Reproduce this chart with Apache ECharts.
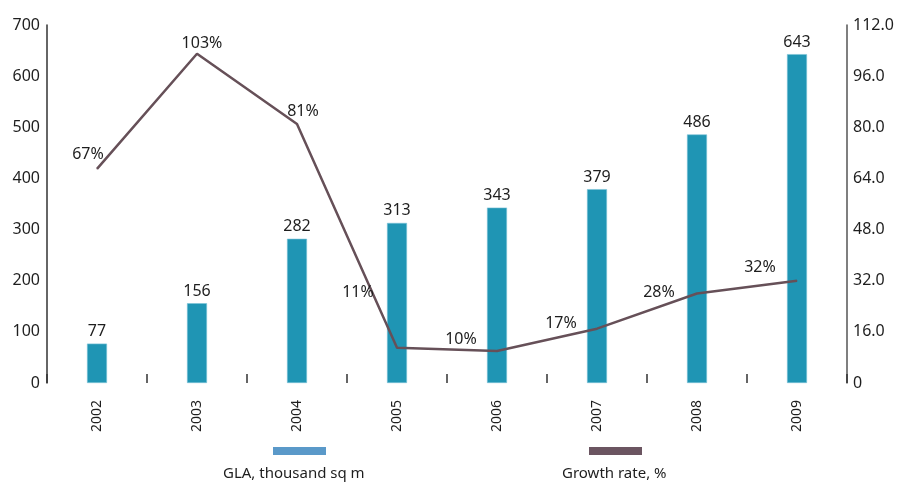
<!DOCTYPE html>
<html>
<head>
<meta charset="utf-8">
<script src="https://cdn.jsdelivr.net/npm/echarts@6/dist/echarts.min.js"></script>
<style>
  html, body { margin: 0; padding: 0; background: #ffffff; }
  #chart { width: 911px; height: 486px; }
</style>
</head>
<body>
<div id="chart"></div>
<script>
// Shopping centre stock: gross leasable area and its yearly growth
const years = ['2002', '2003', '2004', '2005', '2006', '2007', '2008', '2009'];
const glaValues = [77, 156, 282, 313, 343, 379, 486, 643];
const growthValues = [67, 103, 81, 11, 10, 17, 28, 32];
const leftTicks = { min: 0, max: 700, interval: 100 };
const rightTicks = { min: 0, max: 112, interval: 16 };
const seriesNames = ['GLA, thousand sq m', 'Growth rate, %'];

// label placement for the growth-rate line, relative to each point
const growthLabelOffsets = [[-9, -14], [5, -10], [6, -13], [-39, -55], [-36, -12], [-36, -5], [-38, -1], [-37, -13]];

const barColor = '#1f95b4';
const lineColor = '#665058';
const textColor = '#1e1e1e';
const fontFamily = '"Noto Sans", "Open Sans", sans-serif';

const chart = echarts.init(document.getElementById('chart'), null, { renderer: 'canvas' });

const option = {
  backgroundColor: '#ffffff',
  animation: false,
  textStyle: { fontFamily: fontFamily, color: textColor },
  grid: { left: 47, right: 64, top: 25, bottom: 103 },
  xAxis: {
    type: 'category',
    data: years,
    boundaryGap: true,
    axisLine: { show: false },
    axisTick: { show: true, inside: true, length: 9, lineStyle: { color: '#333', width: 1.5 } },
    axisLabel: { rotate: 90, margin: 17, fontSize: 14, color: textColor, fontFamily: fontFamily }
  },
  yAxis: [
    {
      type: 'value',
      min: leftTicks.min, max: leftTicks.max, interval: leftTicks.interval,
      axisLine: { show: true, lineStyle: { color: '#333', width: 1.5 } },
      axisTick: { show: false },
      splitLine: { show: false },
      axisLabel: { margin: 7, fontSize: 16, color: textColor, fontFamily: fontFamily, padding: [8, 0, 0, 0] }
    },
    {
      type: 'value',
      min: rightTicks.min, max: rightTicks.max, interval: rightTicks.interval,
      position: 'right',
      axisLine: { show: true, lineStyle: { color: '#555', width: 1.5 } },
      axisTick: { show: false },
      splitLine: { show: false },
      axisLabel: {
        margin: 6, fontSize: 16, color: textColor, fontFamily: fontFamily, padding: [8, 0, 0, 0],
        formatter: v => (v === 0 ? '0' : v.toFixed(1))
      }
    }
  ],
  series: [
    {
      name: seriesNames[0],
      type: 'bar',
      yAxisIndex: 0,
      data: glaValues,
      barWidth: 20,
      itemStyle: { color: barColor, borderColor: '#7cc3d6', borderWidth: 0.6 },
      label: { show: true, position: 'top', distance: 4, fontSize: 16, color: textColor, fontFamily: fontFamily },
      z: 2
    },
    {
      name: seriesNames[1],
      type: 'line',
      yAxisIndex: 1,
      data: growthValues.map((v, i) => ({
        value: v,
        label: { offset: growthLabelOffsets[i] }
      })),
      symbol: 'circle',
      symbolSize: 1,
      itemStyle: { color: lineColor },
      lineStyle: { color: lineColor, width: 2.5 },
      label: {
        show: true, position: 'inside', fontSize: 16, color: textColor, fontFamily: fontFamily,
        formatter: p => p.value + '%'
      },
      z: 3
    }
  ],
  graphic: [
    { type: 'rect', left: 273, top: 447, shape: { width: 53, height: 8 }, style: { fill: '#5a99c9' } },
    { type: 'text', left: 223, top: 466, style: { text: seriesNames[0], font: '15px ' + fontFamily, fill: textColor } },
    { type: 'rect', left: 589, top: 447, shape: { width: 53, height: 8 }, style: { fill: '#6b5561' } },
    { type: 'text', left: 562, top: 466, style: { text: seriesNames[1], font: '15px ' + fontFamily, fill: textColor } }
  ]
};

chart.setOption(option);
</script>
</body>
</html>
